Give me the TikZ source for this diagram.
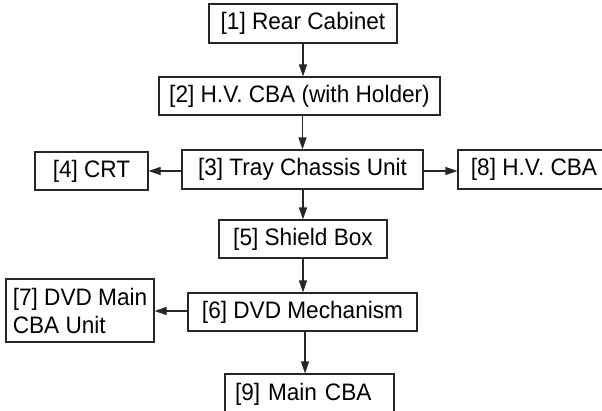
\documentclass[tikz,border=0pt]{standalone}
\usepackage{fontspec}
\setmainfont{Liberation Sans}[FakeStretch=0.95]
\usetikzlibrary{arrows.meta}
\begin{document}
\begin{tikzpicture}[x=1pt,y=-1pt,
  box/.style={draw=black!85, line width=1.2pt, inner sep=0pt, font=\fontsize{23.8}{28}\selectfont},
  conn/.style={draw=black!85, line width=1.2pt, -{Triangle[length=12pt,width=8pt]}}]
\useasboundingbox (0,0) rectangle (602,410);
\node[box, minimum width=188pt, minimum height=39pt] (n1) at (303,23.5) {[1] Rear Cabinet};
\node[box, minimum width=281pt, minimum height=38pt] (n2) at (299.5,96) {[2] H.V. CBA (with Holder)};
\node[box, minimum width=241pt, minimum height=39pt] (n3) at (302.5,169.5) {[3] Tray Chassis Unit};
\node[box, minimum width=113pt, minimum height=38pt] (n4) at (91.5,171) {[4] CRT};
\node[box, minimum width=152pt, minimum height=39pt] (n8) at (534,169.5) {[8] H.V. CBA};
\node[box, minimum width=168pt, minimum height=38pt] (n5) at (303,239) {[5] Shield Box};
\node[box, minimum width=229pt, minimum height=38pt] (n6) at (302.5,312) {[6] DVD Mechanism};
\node[box, minimum width=148pt, minimum height=63pt, align=left] (n7) at (80,310.5) {[7] DVD Main\\CBA Unit};
\node[box, minimum width=169pt, minimum height=40pt, text width=149pt, align=left, inner xsep=10pt] (n9) at (309.5,394) {[9] Main CBA};
\draw[conn] (n1.south) -- (n2.north -| n1.south);
\draw[conn] (n2.south -| n3.north) -- (n3.north);
\draw[conn] ([yshift=-1.5pt]n3.west) -- ([yshift=-1.5pt]n3.west -| n4.east);
\draw[conn] ([yshift=-1.5pt]n3.east) -- ([yshift=-1.5pt]n3.east -| n8.west);
\draw[conn] (n3.south -| n5.north) -- (n5.north);
\draw[conn] (n5.south) -- (n6.north -| n5.south);
\draw[conn] ([yshift=1pt]n6.west) -- ([yshift=1pt]n6.west -| n7.east);
\draw[conn] ([xshift=2.5pt]n6.south) -- ([xshift=2.5pt]n6.south |- n9.north);
\end{tikzpicture}
\end{document}
